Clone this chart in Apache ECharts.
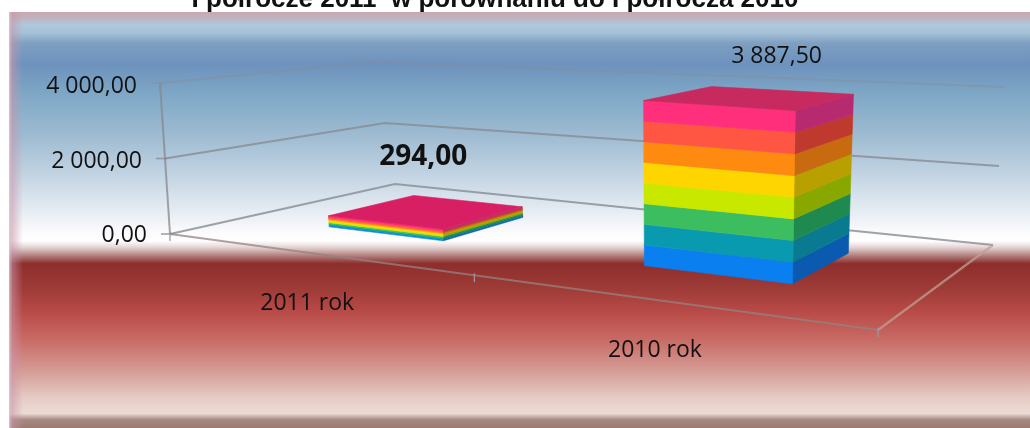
<!DOCTYPE html>
<html><head><meta charset="utf-8">
<style>html,body{margin:0;padding:0;background:#fff}#c{width:1030px;height:428px}</style>
<script src="https://cdn.jsdelivr.net/npm/echarts@6/dist/echarts.min.js"></script>
</head><body><div id="c"></div>
<script>
const titleText = 'I półrocze 2011  w porównaniu do I półrocza 2010';
const categories = ['2011 rok', '2010 rok'];
const values = [294.00, 3887.50];
const valueLabels = ['294,00', '3 887,50'];
const yTicks = [0, 2000, 4000];
const yTickLabels = ['0,00', '2 000,00', '4 000,00'];

const frontColors = ['#0a80f0','#0a9ab0','#3cbd60','#c9e800','#ffd500','#ff8a10','#ff5543','#ff2f7c'];
const sideColors  = ['#0a5ab0','#0a7a90','#1f8a50','#88a800','#b8a000','#c86a10','#c0392f','#b82a70'];
const topColors = ['#d81f64','#c72a5e'];

// 3D layout: floor corners of the plot box at (u,v) = (0,0),(1,0),(1,1),(0,1), and the rise of each corner at full scale
const floorQuad = [[170,234],[878,330],[993,245],[395,184]];
const riseQuad  = [[-10,-151],[3,-196],[12,-158],[-20,-122]];
const GRID = {left:170, top:84, width:700, height:150};
const barHalf = 0.098, depth0 = 0.3, depth1 = 0.7;
const labelOffsets = [[-4,-54],[26,-41]];
const catOffsets = [[-5,50],[-6,50]];

function homography(q){
  const [p0,p1,p2,p3]=q;
  const sx=p0[0]-p1[0]+p2[0]-p3[0], sy=p0[1]-p1[1]+p2[1]-p3[1];
  const dx1=p1[0]-p2[0], dx2=p3[0]-p2[0], dy1=p1[1]-p2[1], dy2=p3[1]-p2[1];
  const den=dx1*dy2-dx2*dy1;
  const g=(sx*dy2-dx2*sy)/den, h=(dx1*sy-sx*dy1)/den;
  const a=p1[0]-p0[0]+g*p1[0], b=p3[0]-p0[0]+h*p3[0], c=p0[0];
  const d=p1[1]-p0[1]+g*p1[1], e=p3[1]-p0[1]+h*p3[1], f=p0[1];
  return (u,v)=>{const w=g*u+h*v+1;return [(a*u+b*v+c)/w,(d*u+e*v+f)/w];};
}
const floorH=homography(floorQuad);
function rise(u,v,k){const r=riseQuad;return (1-u)*(1-v)*r[0][k]+u*(1-v)*r[1][k]+u*v*r[2][k]+(1-u)*v*r[3][k];}
function P(u,v,t){const a=floorH(u,v);return [a[0]+rise(u,v,0)*t,a[1]+rise(u,v,1)*t];}
const toU=px=>(px-GRID.left)/GRID.width;
const toT=py=>(GRID.top+GRID.height-py)/GRID.height;

function poly(points,fill){return {type:'polygon',shape:{points},style:{fill,stroke:fill,lineWidth:0.6}};}
function line(points,stroke,w){return {type:'polyline',shape:{points},style:{fill:'none',stroke,lineWidth:w}};}
function text(x,y,s,font,align){return {type:'text',style:{x,y,text:s,font,fill:'#111',align:align||'center',verticalAlign:'middle'}};}
const LABEL_FONT='23px "Open Sans"';

function renderFrame(params,api){
  const i=params.dataIndex;
  const t=toT(api.coord([0,api.value(1)])[1]);
  const alpha = i===2 ? 0.38 : 0.8;
  const c='rgba(135,140,148,'+alpha+')';
  const kids=[line([P(0,0,t),P(0,1,t),P(1,1,t)],c,2.2)];
  const a=P(0,0,t);
  kids.push(line([[a[0]-9,a[1]],[a[0]+2,a[1]]],c,1.6));
  kids.push(text(a[0]-23,a[1]+(i===0?1:3),yTickLabels[i],LABEL_FONT,'right'));
  if(i===0){
    kids.push(line([P(0,0,0),P(0,0,1)],'rgba(135,135,140,.75)',2));
    kids.push(line([P(0,0,0),P(1,0,0)],'rgba(150,130,130,.75)',2.2));
    kids.push(line([P(1,0,0),P(1,1,0)],'rgba(190,160,150,.75)',2.2));
    [0,0.5,1].forEach(u=>{const p=P(u,0,0);kids.push(line([[p[0],p[1]-2],[p[0],p[1]+7]],'rgba(150,155,160,.9)',1.4));});
  }
  return {type:'group',children:kids};
}
function renderBar(params,api){
  const i=params.dataIndex;
  const c=api.coord([api.value(0),api.value(1)]);
  const u=toU(c[0]), T=toT(c[1]);
  const u0=u-barHalf,u1=u+barHalf,v0=depth0,v1=depth1;
  const kids=[];
  const n=frontColors.length;
  for(let b=0;b<n;b++){
    const t0=T*b/n,t1=T*(b+1)/n;
    kids.push(poly([P(u1,v0,t0),P(u1,v1,t0),P(u1,v1,t1),P(u1,v0,t1)],sideColors[b]));
    kids.push(poly([P(u0,v0,t0),P(u1,v0,t0),P(u1,v0,t1),P(u0,v0,t1)],frontColors[b]));
  }
  kids.push(poly([P(u0,v0,T),P(u1,v0,T),P(u1,v1,T),P(u0,v1,T)],topColors[i]));
  const top=P(u,(v0+v1)/2,T);
  kids.push(text(top[0]+labelOffsets[i][0],top[1]+labelOffsets[i][1],valueLabels[i],
    i===0?'bold 28px "Open Sans"':LABEL_FONT));
  const f=P(u,0,0);
  kids.push(text(f[0]+catOffsets[i][0],f[1]+catOffsets[i][1],categories[i],LABEL_FONT));
  return {type:'group',children:kids};
}

const bgStops=[[0,'#c9a8b0'],[0.012,'#c2b0ba'],[0.03,'#aec8dc'],[0.05,'#a6c2d8'],[0.075,'#7f9fc2'],[0.125,'#6d92bd'],[0.2,'#7fa8c6'],[0.3,'#9fbcd2'],[0.4,'#c6d6e4'],[0.48,'#e6edf3'],[0.53,'#fbfbfc'],[0.55,'#ffffff'],[0.565,'#e6d6d6'],[0.59,'#a86e6a'],[0.605,'#8e2e2c'],[0.66,'#9c3a36'],[0.72,'#b84a47'],[0.79,'#c96c66'],[0.86,'#d59a94'],[0.93,'#e6cdc6'],[0.965,'#ecdcd6'],[0.98,'#a88a82'],[1,'#9c7a72']];

const chart=echarts.init(document.getElementById('c'),null,{renderer:'canvas'});
chart.setOption({
  animation:false,
  backgroundColor:'#fff',
  title:{text:titleText,left:490,top:-18,textAlign:'center',
    textStyle:{fontFamily:'"Liberation Sans"',fontWeight:'bold',fontSize:26,color:'#111'}},
  graphic:{elements:[
    {type:'rect',z:-100,shape:{x:9,y:12,width:1021,height:416},silent:true,
     style:{fill:new echarts.graphic.LinearGradient(0,0,0,1,bgStops.map(s=>({offset:s[0],color:s[1]})))}},
    {type:'rect',z:-99,shape:{x:9,y:12,width:14,height:416},silent:true,
     style:{fill:new echarts.graphic.LinearGradient(0,0,1,0,[{offset:0,color:'rgba(225,195,205,.9)'},{offset:.25,color:'rgba(200,150,170,.55)'},{offset:1,color:'rgba(200,150,170,0)'}])}}
  ]},
  grid:GRID,
  xAxis:{type:'category',data:categories,show:false},
  yAxis:{type:'value',min:0,max:4000,interval:2000,show:false},
  series:[
    {type:'custom',name:'frame',coordinateSystem:'cartesian2d',clip:false,z:2,
     data:yTicks.map(v=>[0,v]),encode:{x:0,y:1},renderItem:renderFrame},
    {type:'custom',name:'bars',coordinateSystem:'cartesian2d',clip:false,z:3,
     data:values.map((v,i)=>[i,v]),encode:{x:0,y:1},renderItem:renderBar}
  ]
});
</script></body></html>
